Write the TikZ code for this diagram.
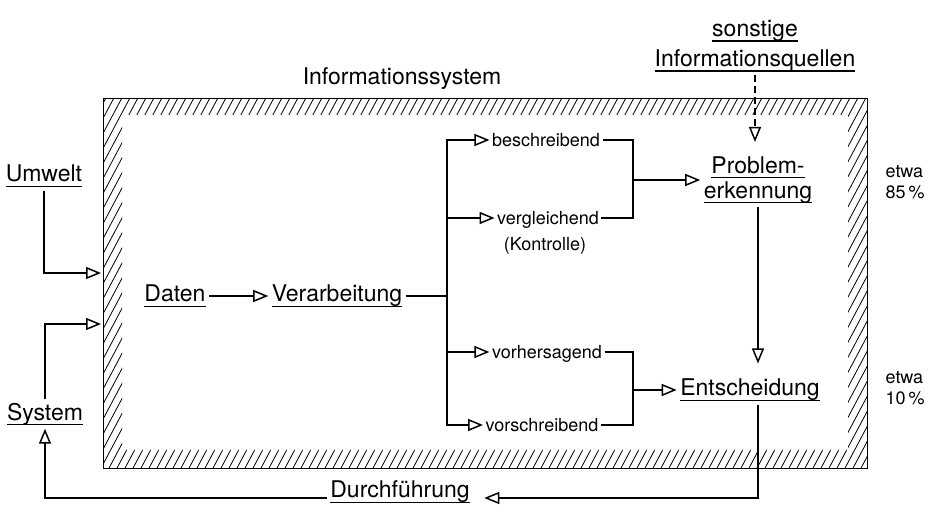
\documentclass[tikz,border=0pt]{standalone}
\usepackage{fontspec}
\setmainfont{TeX Gyre Heros}
\usetikzlibrary{arrows.meta}
\newcommand{\ulword}[1]{\setbox0\hbox{#1}\rlap{\rule[-5pt]{\wd0}{1.3pt}}\box0}

\begin{document}
\begin{tikzpicture}[x=1pt, y=-1pt, line width=1.3pt,
        big/.style={font=\fontsize{23}{26}\selectfont, inner sep=3pt},
        small/.style={font=\fontsize{18}{20}\selectfont, inner sep=2pt, text depth=0pt},
        note/.style={font=\fontsize{18}{21}\selectfont, inner sep=0pt, align=left, anchor=west},
        arr/.style={-{Triangle[open, length=15pt, width=12pt, line width=1.5pt]}}]
                \useasboundingbox (0,0) rectangle (930,518);

                \begin{scope}[even odd rule]
                    \clip (103,98) rectangle (867,468) (122,115) rectangle (848,450);
                    \foreach \k in {-100,-92,...,870}
                        {
                            \draw[line width=0.8pt] (\k,470) -- ++(200,-376);
                        }
                \end{scope}
                \draw[line width=0.9pt] (103,98) rectangle (867,468);
                \node[big] (infsys) at (402,79) {Informationssystem};

                \node[big, align=center, font=\fontsize{23}{30}\selectfont] (quellen) at (755,46)
                    {\ulword{sonstige}\\\ulword{Informationsquellen}};
                \node[big] (umwelt) at (44,176) {\ulword{Umwelt}};
                \node[big] (system) at (45,414) {\ulword{System}};
                \node[big] (daten) at (175,296) {\ulword{Daten}};
                \node[big] (verarb) at (337,296) {\ulword{Verarbeitung}};
                \node[small] (besch) at (546,140) {beschreibend};
                \node[small] (vergl) at (548,218) {vergleichend};
                \node[small] (kontr) at (545,244) {(Kontrolle)};
                \node[small] (vorh) at (547,352) {vorhersagend};
                \node[small] (vorschr) at (542,425) {vorschreibend};
                \node[big, align=center, font=\fontsize{23}{25}\selectfont] (probl) at (758,180)
                    {\ulword{Problem-}\\\ulword{erkennung}};
                \node[big] (entsch) at (750,390) {\ulword{Entscheidung}};
                \node[big, anchor=base] (durch) at (400,498) {\ulword{Durchführung}};
                \node[note] (etwaA) at (885,182) {etwa\\85\,\%};
                \node[note] (etwaB) at (885,388) {etwa\\10\,\%};

                \coordinate (inA) at (101,273);
                \coordinate (inB) at (101,324);
                \coordinate (br) at (447,296);
                \coordinate (jA) at (633,180);
                \coordinate (jB) at (633,390);

                \draw[arr] (umwelt) |- (inA);
                \draw[arr] (system) |- (inB);
                \draw[arr] (daten) -- (verarb);
                \draw (verarb) -- (br);
                \foreach \n in {besch, vergl, vorh, vorschr}
                    {
                        \draw[arr] (br) |- (\n);
                    }
                \draw (besch) -| (jA) |- (vergl);
                \draw (vorh) -| (jB) |- (vorschr);
                \draw[arr] (jA) -- (probl);
                \draw[arr] (jB) -- (entsch);
                \draw[arr, dash pattern=on 7pt off 4pt, shorten >=11pt] (quellen) -- (quellen |- probl.north);
                \draw[arr, shorten >=12pt] (probl) -- (probl |- entsch.north);
                \draw[arr, shorten >=11pt] (entsch.south -| probl) |- (durch.base east);
                \draw[arr] (durch.base west) -| (system);
\end{tikzpicture}
\end{document}
